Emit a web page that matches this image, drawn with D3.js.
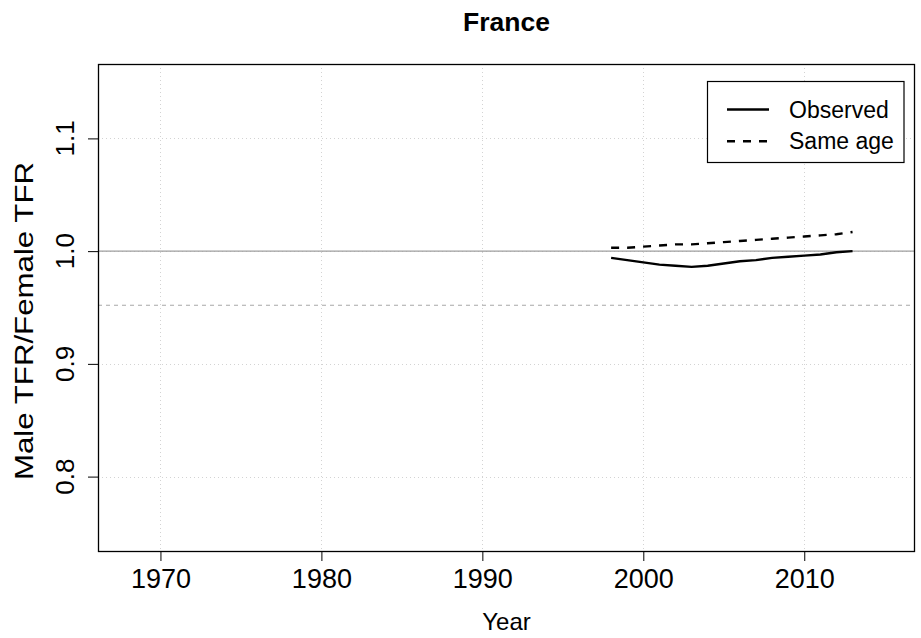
<!DOCTYPE html>
<html>
<head>
<meta charset="utf-8">
<script src="https://cdn.jsdelivr.net/npm/d3@7"></script>
<style>
  body { margin: 0; background: #fff; }
  text { font-family: "Liberation Sans", Arial, Helvetica, sans-serif; fill: #000; }
</style>
</head>
<body>
<svg id="chart" width="921" height="638"></svg>
<script>
// Ratio of male to female total fertility rate, France
const years    = [1998, 1999, 2000, 2001, 2002, 2003, 2004, 2005, 2006, 2007, 2008, 2009, 2010, 2011, 2012, 2013];
const observed = [0.994, 0.992, 0.990, 0.988, 0.987, 0.986, 0.987, 0.989, 0.991, 0.992, 0.994, 0.995, 0.996, 0.997, 0.999, 1.000];
const sameAge  = [1.003, 1.003, 1.004, 1.005, 1.006, 1.006, 1.007, 1.008, 1.009, 1.010, 1.011, 1.012, 1.013, 1.014, 1.015, 1.017];

const xTicks = [1970, 1980, 1990, 2000, 2010];
const yTicks = [0.8, 0.9, 1.0, 1.1];
const yTickLabels = ["0.8", "0.9", "1.0", "1.1"];

// Reference levels: parity and the inverse sex ratio at birth (1/1.05)
const parityLevel = 1.0;
const birthRatioLevel = 0.952;

const legendLabels = ["Observed", "Same age"];
const titleText = "France";
const xTitle = "Year";
const yTitle = "Male TFR/Female TFR";

const svg = d3.select("#chart");
const plotL = 98, plotR = 915, plotT = 64, plotB = 551;

const x = d3.scaleLinear().domain([1966.12, 2016.88]).range([plotL, plotR]);
const y = d3.scaleLinear().domain([0.734, 1.166]).range([plotB, plotT]);

// dotted grid
const grid = svg.append("g").attr("stroke", "#d3d3d3").attr("stroke-width", 1).attr("stroke-dasharray", "1,3");
grid.selectAll("line.gx").data(xTicks).enter().append("line")
  .attr("x1", d => Math.round(x(d)) + 0.5).attr("x2", d => Math.round(x(d)) + 0.5)
  .attr("y1", plotT).attr("y2", plotB);
grid.selectAll("line.gy").data(yTicks).enter().append("line")
  .attr("y1", d => Math.round(y(d)) + 0.5).attr("y2", d => Math.round(y(d)) + 0.5)
  .attr("x1", plotL).attr("x2", plotR);

// reference lines
svg.append("line")
  .attr("x1", plotL).attr("x2", plotR)
  .attr("y1", y(parityLevel)).attr("y2", y(parityLevel))
  .attr("stroke", "#9e9e9e").attr("stroke-width", 1.2);
svg.append("line")
  .attr("x1", plotL).attr("x2", plotR)
  .attr("y1", y(birthRatioLevel)).attr("y2", y(birthRatioLevel))
  .attr("stroke", "#a8a8a8").attr("stroke-width", 1.2).attr("stroke-dasharray", "4,4");

// series
const line = d3.line().x((d, i) => x(years[i])).y(d => y(d));
svg.append("path").datum(observed)
  .attr("d", line).attr("fill", "none").attr("stroke", "#000").attr("stroke-width", 2.4);
svg.append("path").datum(sameAge)
  .attr("d", line).attr("fill", "none").attr("stroke", "#000").attr("stroke-width", 2.4)
  .attr("stroke-dasharray", "8,8");

// axes
const xAxis = d3.axisBottom(x).tickValues(xTicks).tickFormat(d3.format("d")).tickSize(10).tickPadding(8);
const gx = svg.append("g").attr("transform", `translate(0,${plotB})`).call(xAxis);
gx.select(".domain").remove();
gx.selectAll(".tick line").attr("stroke", "#000");
gx.selectAll(".tick text").style("font-size", "27px").attr("fill", "#000");

const yAxis = d3.axisLeft(y).tickValues(yTicks).tickFormat("").tickSize(10);
const gy = svg.append("g").attr("transform", `translate(${plotL},0)`).call(yAxis);
gy.select(".domain").remove();
gy.selectAll(".tick line").attr("stroke", "#000");
svg.append("g").selectAll("text").data(yTicks).enter().append("text")
  .attr("transform", d => `translate(73.5,${y(d)}) rotate(-90)`)
  .attr("text-anchor", "middle")
  .style("font-size", "26px")
  .text((d, i) => yTickLabels[i]);

// plot box
svg.append("rect")
  .attr("x", plotL + 0.5).attr("y", plotT + 0.5)
  .attr("width", plotR - plotL - 1).attr("height", plotB - plotT)
  .attr("fill", "none").attr("stroke", "#000").attr("stroke-width", 1.3);

// titles
svg.append("text").attr("x", (plotL + plotR) / 2).attr("y", 31)
  .attr("text-anchor", "middle").style("font-size", "26.5px").style("font-weight", "bold")
  .text(titleText);
svg.append("text").attr("x", (plotL + plotR) / 2).attr("y", 630)
  .attr("text-anchor", "middle").style("font-size", "24px")
  .text(xTitle);
svg.append("text")
  .attr("transform", `translate(33,321) rotate(-90)`)
  .attr("text-anchor", "middle").style("font-size", "25px")
  .attr("textLength", 318).attr("lengthAdjust", "spacingAndGlyphs")
  .text(yTitle);

// legend
const lg = svg.append("g");
lg.append("rect").attr("x", 707.5).attr("y", 81.5).attr("width", 196.5).attr("height", 81)
  .attr("fill", "#fff").attr("stroke", "#000").attr("stroke-width", 1.2);
const legendDash = [null, "8,8"];
legendLabels.forEach((lab, i) => {
  const ly = 109.5 + i * 31.7;
  lg.append("line").attr("x1", 727).attr("x2", 769).attr("y1", ly).attr("y2", ly)
    .attr("stroke", "#000").attr("stroke-width", 2.4)
    .attr("stroke-dasharray", legendDash[i]);
  lg.append("text").attr("x", 789).attr("y", ly + 8)
    .style("font-size", "23px").text(lab);
});
</script>
</body>
</html>
